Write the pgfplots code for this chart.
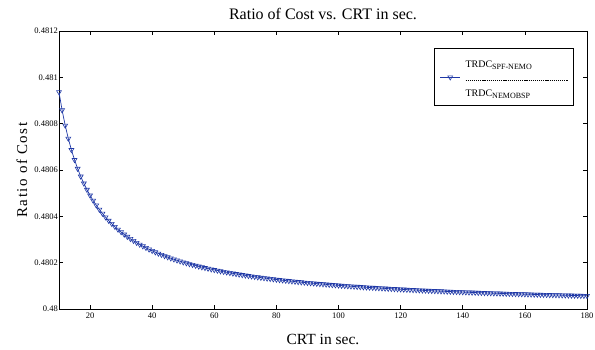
\documentclass[border=0pt]{standalone}
\usepackage{pgfplots}
\pgfplotsset{compat=1.18}
\usepackage{fontspec}
\setmainfont{Liberation Serif}
\definecolor{mblue}{rgb}{0.12,0.22,0.65}
\pgfplotstableread{
x y
10 0.4809364
11 0.4808583
12 0.4807923
13 0.4807357
14 0.4806867
15 0.4806438
16 0.4806059
17 0.4805722
18 0.4805421
19 0.4805150
20 0.4804905
21 0.4804682
22 0.4804478
23 0.4804292
24 0.4804120
25 0.4803962
26 0.4803815
27 0.4803679
28 0.4803552
29 0.4803433
30 0.4803323
31 0.4803219
32 0.4803121
33 0.4803029
34 0.4802943
35 0.4802861
36 0.4802784
37 0.4802711
38 0.4802641
39 0.4802575
40 0.4802512
41 0.4802452
42 0.4802395
43 0.4802341
44 0.4802289
45 0.4802239
46 0.4802191
47 0.4802146
48 0.4802102
49 0.4802060
50 0.4802020
51 0.4801981
52 0.4801943
53 0.4801907
54 0.4801873
55 0.4801839
56 0.4801807
57 0.4801776
58 0.4801746
59 0.4801717
60 0.4801689
61 0.4801661
62 0.4801635
63 0.4801609
64 0.4801585
65 0.4801561
66 0.4801537
67 0.4801515
68 0.4801493
69 0.4801471
70 0.4801451
71 0.4801431
72 0.4801411
73 0.4801392
74 0.4801373
75 0.4801355
76 0.4801338
77 0.4801321
78 0.4801304
79 0.4801288
80 0.4801272
81 0.4801256
82 0.4801241
83 0.4801226
84 0.4801212
85 0.4801198
86 0.4801184
87 0.4801170
88 0.4801157
89 0.4801144
90 0.4801132
91 0.4801120
92 0.4801108
93 0.4801096
94 0.4801084
95 0.4801073
96 0.4801062
97 0.4801051
98 0.4801040
99 0.4801030
100 0.4801020
101 0.4801010
102 0.4801000
103 0.4800990
104 0.4800981
105 0.4800972
106 0.4800963
107 0.4800954
108 0.4800945
109 0.4800936
110 0.4800928
111 0.4800920
112 0.4800912
113 0.4800904
114 0.4800896
115 0.4800888
116 0.4800880
117 0.4800873
118 0.4800866
119 0.4800858
120 0.4800851
121 0.4800844
122 0.4800837
123 0.4800831
124 0.4800824
125 0.4800817
126 0.4800811
127 0.4800805
128 0.4800798
129 0.4800792
130 0.4800786
131 0.4800780
132 0.4800774
133 0.4800769
134 0.4800763
135 0.4800757
136 0.4800752
137 0.4800746
138 0.4800741
139 0.4800736
140 0.4800730
141 0.4800725
142 0.4800720
143 0.4800715
144 0.4800710
145 0.4800705
146 0.4800701
147 0.4800696
148 0.4800691
149 0.4800687
150 0.4800682
151 0.4800678
152 0.4800673
153 0.4800669
154 0.4800665
155 0.4800660
156 0.4800656
157 0.4800652
158 0.4800648
159 0.4800644
160 0.4800640
161 0.4800636
162 0.4800632
163 0.4800628
164 0.4800624
165 0.4800620
166 0.4800617
167 0.4800613
168 0.4800609
169 0.4800606
170 0.4800602
171 0.4800599
172 0.4800595
173 0.4800592
174 0.4800589
175 0.4800585
176 0.4800582
177 0.4800579
178 0.4800575
179 0.4800572
180 0.4800569
}\ratiodata
\newcommand{\legtext}{\vbox{\offinterlineskip
  \hbox{\rule[-3pt]{0pt}{18.7pt}TRDC\textsubscript{\fontsize{8}{9}\selectfont SPF-NEMO}}
  \kern9.4pt
  \hbox to 103pt{\leaders\hbox to 2.1pt{\rule{1.2pt}{0.45pt}\hss}\hfill}
  \kern8.45pt
  \hbox{\rule[-4pt]{0pt}{12pt}TRDC\textsubscript{\fontsize{8}{9}\selectfont NEMOBSP}}
  \kern0pt}}
\begin{document}
\begin{tikzpicture}
\begin{axis}[
  name=ax,
  scale only axis, width=528pt, height=278pt,
  xmin=10, xmax=180, ymin=0.48, ymax=0.4812,
  xtick={20,40,...,180},
  ytick={0.48,0.4802,0.4804,0.4806,0.4808,0.481,0.4812},
  yticklabels={0.48,0.4802,0.4804,0.4806,0.4808,0.481,0.4812},
  scaled ticks=false,
  tick align=inside, major tick length=4pt, tick pos=both,
  axis line style={line width=0.8pt},
  every tick/.style={black, line width=0.6pt},
  tick label style={font=\fontsize{8.5}{10}\selectfont},
  /pgf/number format/assume math mode=true,
  xticklabel style={inner sep=1pt, yshift=-3pt},
  yticklabel style={inner sep=1pt},
  title={Ratio of Cost vs. CRT in sec.},
  title style={font=\fontsize{16}{18}\selectfont, at={(axis description cs:0.5,1)}, anchor=center, yshift=11pt},
  xlabel={CRT in sec.},
  xlabel style={font=\fontsize{15.5}{18}\selectfont, at={(axis description cs:0.5,0)}, anchor=center, yshift=-30pt},
  ylabel={\addfontfeature{LetterSpace=10}Ratio of Cost},
  ylabel style={font=\fontsize{15}{18}\selectfont, at={(axis description cs:-0.0701,0.5)}, anchor=center},
  legend style={at={(0.9754,0.9388)}, anchor=north east, draw=black, line width=0.9pt,
    font=\fontsize{10}{12}\selectfont, inner xsep=3pt, inner ysep=1pt, legend cell align=left},
  legend image code/.code={\path (-2pt,0pt) (23pt,0pt);
    \draw[mark repeat=2, mark phase=2]
    plot coordinates {(0pt,-0.5pt) (10pt,-0.5pt) (20pt,-0.5pt)};},
]
\addplot[color=mblue, line width=0.7pt, mark=triangle, mark size=2.8pt,
  mark options={rotate=180, solid, line width=0.6pt}] table[x=x,y=y] {\ratiodata};
\addlegendentry{\legtext}
\end{axis}
\pgfresetboundingbox
\path[use as bounding box] ([xshift=-59pt,yshift=-40pt]ax.south west) rectangle ([xshift=8pt,yshift=31pt]ax.north east);
\end{tikzpicture}
\end{document}
